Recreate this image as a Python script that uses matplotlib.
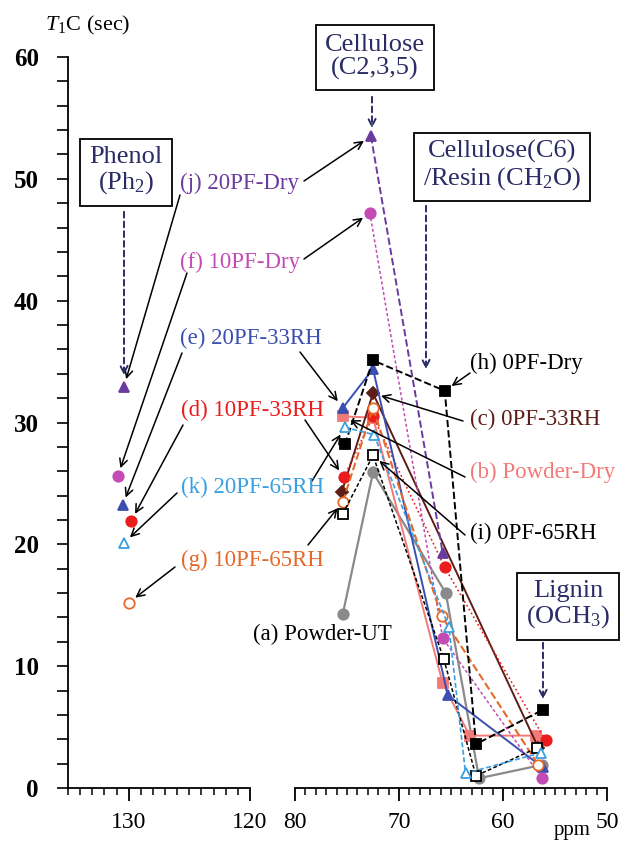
import matplotlib
matplotlib.use("Agg")
import matplotlib.pyplot as plt
from matplotlib.ticker import MultipleLocator

# ------------------ Data ------------------

# phenol peak (left panel): ppm, T1C
phenol_ppm = {"j": 130.4, "f": 130.9, "e": 130.5, "d": 129.8, "k": 130.4, "g": 130.0}
phenol_t1 = {"j": 32.9, "f": 25.6, "e": 23.2, "d": 21.9, "k": 20.1, "g": 15.2}

# aliphatic region (right panel)
a_ppm = [75.4, 72.5, 65.5, 62.3, 56.25]
a_t1 = [14.3, 25.9, 16.0, 0.8, 1.9]
b_ppm = [75.4, 72.5, 65.8, 63.2, 56.8]
b_t1 = [30.5, 30.4, 8.6, 4.3, 4.3]
c_ppm = [75.5, 72.5, 56.6]
c_t1 = [24.3, 32.4, 3.3]
d_ppm = [75.3, 72.5, 65.6, 55.9]
d_t1 = [25.5, 30.5, 18.1, 3.9]
e_ppm = [75.4, 72.5, 65.3, 56.2]
e_t1 = [31.2, 34.4, 7.6, 1.7]
f_ppm = [72.8, 65.8, 56.25]
f_t1 = [47.2, 12.3, 0.8]
g_ppm = [75.4, 72.5, 65.9, 56.6]
g_t1 = [23.5, 31.2, 14.1, 1.9]
h_ppm = [75.2, 72.5, 65.6, 62.6, 56.2]
h_t1 = [28.2, 35.1, 32.6, 3.6, 6.4]
i_ppm = [75.4, 72.5, 65.7, 62.6, 56.7]
i_t1 = [22.5, 27.3, 10.6, 1.0, 3.3]
j_ppm = [72.7, 65.8]
j_t1 = [53.5, 19.3]
k_ppm = [75.2, 72.4, 65.2, 63.6, 56.3]
k_t1 = [29.6, 29.0, 13.2, 1.2, 2.9]

labels = {
    "a": "(a) Powder-UT", "b": "(b) Powder-Dry", "c": "(c) 0PF-33RH",
    "d": "(d) 10PF-33RH", "e": "(e) 20PF-33RH", "f": "(f) 10PF-Dry",
    "g": "(g) 10PF-65RH", "h": "(h) 0PF-Dry", "i": "(i) 0PF-65RH",
    "j": "(j) 20PF-Dry", "k": "(k) 20PF-65RH",
}

# ------------------ Styles ------------------

navy = "#2b2b66"
styles = {
    # color, text color, marker, filled, linestyle, lw
    "a": ("#8a8a8a", "black", "o", True, "-", 1.6),
    "b": ("#f27a78", "#f27a78", "s", True, "-", 1.4),
    "c": ("#5c1e16", "#5c1e16", "D", True, "-", 1.4),
    "d": ("#ea1c1c", "#ea1c1c", "o", True, ":", 1.2),
    "e": ("#3a4fb0", "#3a4fb0", "^", True, "-", 1.4),
    "f": ("#c34cb4", "#c34cb4", "o", True, (0, (2, 1.5)), 1.1),
    "g": ("#e4692a", "#e4692a", "o", False, "--", 1.5),
    "h": ("black", "black", "s", True, "--", 1.4),
    "i": ("black", "black", "s", False, (0, (2.5, 1.5)), 1.1),
    "j": ("#6a3a9e", "#6a3a9e", "^", True, "--", 1.4),
    "k": ("#3a9fe0", "#3a9fe0", "^", False, (0, (3, 1.5)), 1.2),
}

series = {
    "a": (a_ppm, a_t1), "b": (b_ppm, b_t1), "c": (c_ppm, c_t1),
    "d": (d_ppm, d_t1), "e": (e_ppm, e_t1), "f": (f_ppm, f_t1),
    "g": (g_ppm, g_t1), "h": (h_ppm, h_t1), "i": (i_ppm, i_t1),
    "j": (j_ppm, j_t1), "k": (k_ppm, k_t1),
}

plt.rcParams["font.family"] = ["Liberation Serif", "DejaVu Serif"]
plt.rcParams["mathtext.fontset"] = "custom"
plt.rcParams["mathtext.rm"] = "Liberation Serif"
plt.rcParams["mathtext.it"] = "Liberation Serif:italic"

W, H = 622, 843
fig = plt.figure(figsize=(W / 100, H / 100), dpi=100)


def rect(x0, y0, x1, y1):
    return [x0 / W, 1 - y1 / H, (x1 - x0) / W, (y1 - y0) / H]


def fp(x, y):
    return (x / W, 1 - y / H)


axL = fig.add_axes(rect(68, 57, 250, 788))
axR = fig.add_axes(rect(295, 57, 607, 788))

for ax in (axL, axR):
    ax.set_ylim(0, 60)
    ax.patch.set_alpha(0)
    for s in ("top", "right"):
        ax.spines[s].set_visible(False)
    ax.spines["bottom"].set_linewidth(1.3)
    ax.spines["left"].set_linewidth(1.3)
    ax.xaxis.set_major_locator(MultipleLocator(10))
    ax.xaxis.set_minor_locator(MultipleLocator(1))
    ax.tick_params(axis="x", which="major", length=9, width=1.3, labelsize=17, pad=8)
    ax.tick_params(axis="x", which="minor", length=5, width=1.1)

axL.set_xlim(135, 120)
axL.set_xticks([130, 120])
axR.set_xlim(80, 50)
axR.spines["left"].set_visible(False)
axR.set_yticks([])

axL.yaxis.set_major_locator(MultipleLocator(10))
axL.yaxis.set_minor_locator(MultipleLocator(2))
axL.tick_params(axis="y", which="both", length=8, width=1.2, labelsize=18, pad=13)
for lbl in axL.get_yticklabels():
    lbl.set_fontweight("bold")

# ------------------ Series ------------------

for key, (xs, ys) in series.items():
    col, tcol, mk, filled, ls, lw = styles[key]
    mfc = col if filled else "white"
    ms = 6 if mk == "D" else 7.5
    axR.plot(xs, ys, color=col, ls=ls, lw=lw, marker=mk, ms=ms,
             mfc=mfc, mec=col, mew=1.3, zorder=3)

for key in phenol_ppm:
    col, tcol, mk, filled, ls, lw = styles[key]
    mfc = col if filled else "white"
    axL.plot([phenol_ppm[key]], [phenol_t1[key]], marker=mk, ms=7.5,
             color=col, mfc=mfc, mec=col, mew=1.3, ls="none", zorder=3)

# ------------------ Labels & arrows ------------------

label_pos = {
    "j": (180, 183), "f": (180, 262), "e": (180, 338), "d": (181, 410),
    "k": (181, 487), "g": (181, 560), "a": (253, 634), "h": (470, 363),
    "c": (470, 419), "b": (470, 472), "i": (470, 533),
}
for key, (x, y) in label_pos.items():
    fig.text(*fp(x, y), labels[key], color=styles[key][1], fontsize=16.5,
             ha="left", va="center")

arrow = dict(arrowstyle="->", color="black", lw=1.1, shrinkA=0, shrinkB=6,
             mutation_scale=14)
right_arrows = {"j": (304, 181), "f": (304, 259), "e": (300, 352),
                "d": (305, 420), "k": (312, 481), "g": (308, 545),
                "h": (470, 373), "c": (463, 421), "b": (465, 477),
                "i": (465, 535)}
right_idx = {"j": 0, "f": 0, "e": 0, "d": 0, "k": 0, "g": 0,
             "h": 2, "c": 1, "b": 0, "i": 1}
for key, start in right_arrows.items():
    xs, ys = series[key]
    n = right_idx[key]
    axR.annotate("", xy=(xs[n], ys[n]), xycoords="data",
                 xytext=fp(*start), textcoords="figure fraction",
                 arrowprops=arrow, annotation_clip=False, zorder=5)

left_arrows = {"j": (180, 195), "f": (187, 273), "e": (182, 353),
               "d": (183, 425), "k": (177, 493), "g": (175, 567)}
for key, start in left_arrows.items():
    axL.annotate("", xy=(phenol_ppm[key], phenol_t1[key]), xycoords="data",
                 xytext=fp(*start), textcoords="figure fraction",
                 arrowprops=arrow, annotation_clip=False, zorder=5)

# ------------------ Boxes ------------------

boxes = [
    ("Phenol\n(Ph$_2$)", (126, 171), (124, 209), (124, 378)),
    ("Cellulose\n(C2,3,5)", (375, 57), (372, 94), (372, 131)),
    ("Cellulose(C6)\n/Resin (CH$_2$O)", (502, 166), (426, 203), (426, 372)),
    ("Lignin\n(OCH$_3$)", (568, 605), (543, 640), (543, 702)),
]
for txt, center, a0, a1 in boxes:
    fig.text(*fp(*center), txt, color=navy, fontsize=19, ha="center",
             va="center", linespacing=1.1,
             bbox=dict(boxstyle="square,pad=0.35", fc="white", ec="black", lw=1.3))
    fig.add_artist(matplotlib.patches.FancyArrowPatch(
        fp(*a0), fp(*a1), transform=fig.transFigure, arrowstyle="->",
        color=navy, lw=1.4, ls=(0, (3, 2)), mutation_scale=13))

fig.text(*fp(45, 25), "$T_1$C (sec)", fontsize=16, ha="left", va="center")
fig.text(*fp(572, 831), "ppm", fontsize=15, ha="center", va="center")

fig.savefig("out.png", dpi=100)
